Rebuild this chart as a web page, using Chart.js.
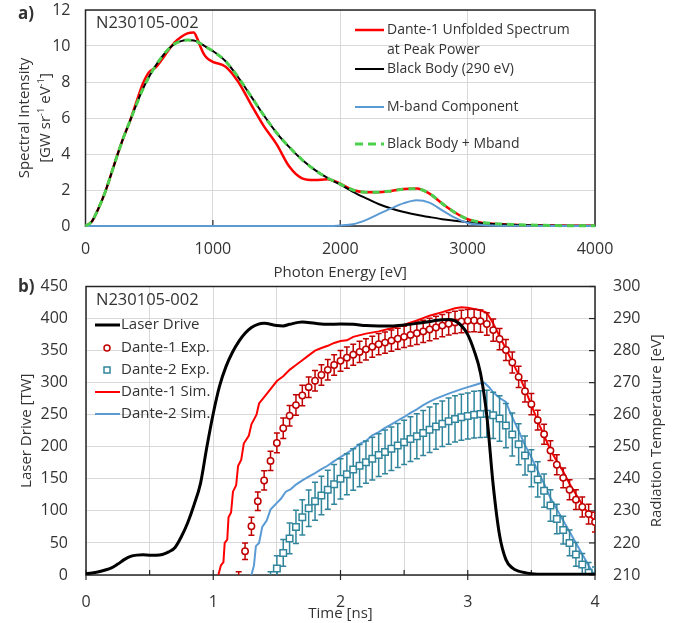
<!DOCTYPE html>
<html>
<head>
<meta charset="utf-8">
<script src="https://cdn.jsdelivr.net/npm/chart.js@4.4.1/dist/chart.umd.min.js"></script>
<style>
  html, body { margin: 0; padding: 0; background: #fff; }
  #wrap { position: relative; width: 691px; height: 623px; overflow: hidden; }
  #specChart { position: absolute; left: 0; top: 0; }
  #tempChart { position: absolute; left: 0; top: 272px; }
</style>
</head>
<body>
<div id="wrap">
  <canvas id="specChart" width="691" height="283"></canvas>
  <canvas id="tempChart" width="691" height="351"></canvas>
</div>
<script>
// ---------- a) spectrum ----------
const energy = [0, 50, 100, 150, 200, 250, 300, 350, 400, 450, 500, 550, 600, 650, 700, 750, 800, 850, 875, 900, 925, 950, 1000,
  1100, 1200, 1300, 1400, 1500, 1600, 1700, 1800, 1900, 2000, 2100, 2200, 2300, 2400, 2500, 2600, 2700, 2800, 2900, 3000,
  3100, 3200, 3400, 3600, 3800, 4000];
const dante1Spec = [0, 0.25, 0.95, 1.8, 2.85, 3.94, 4.95, 5.85, 6.9, 7.9, 8.55, 8.8, 9.25, 9.75, 10.2, 10.5, 10.7, 10.75, 10.45, 10.0, 9.6, 9.35, 9.12,
  8.85, 8.0, 6.75, 5.55, 4.55, 3.3, 2.65, 2.55, 2.6, 2.35, 2.0, 1.88, 1.88, 1.95, 2.05, 2.08, 1.8, 1.25, 0.75, 0.38,
  0.2, 0.12, 0.06, 0.03, 0.015, 0.01];
const blackBody = [0, 0.25, 0.95, 1.8, 2.85, 3.94, 4.95, 5.85, 6.75, 7.6, 8.3, 8.9, 9.4, 9.82, 10.12, 10.27, 10.33, 10.3, 10.25, 10.15, 10.05, 9.93, 9.72,
  9.15, 8.25, 7.2, 6.15, 5.18, 4.38, 3.68, 3.12, 2.67, 2.3, 1.9, 1.55, 1.22, 0.97, 0.78, 0.63, 0.5, 0.38, 0.29, 0.21,
  0.15, 0.11, 0.06, 0.03, 0.015, 0.01];
const mBand = [0, 0, 0, 0, 0, 0, 0, 0, 0, 0, 0, 0, 0, 0, 0, 0, 0, 0, 0, 0, 0, 0, 0,
  0, 0, 0, 0, 0, 0, 0, 0, 0, 0.03, 0.1, 0.33, 0.66, 0.98, 1.27, 1.43, 1.3, 0.87, 0.46, 0.17,
  0.07, 0.03, 0.01, 0, 0, 0];
const bbPlusM = [0, 0.25, 0.95, 1.8, 2.85, 3.94, 4.95, 5.85, 6.75, 7.6, 8.3, 8.9, 9.4, 9.82, 10.12, 10.27, 10.33, 10.3, 10.25, 10.15, 10.05, 9.93, 9.72,
  9.15, 8.25, 7.2, 6.15, 5.18, 4.38, 3.68, 3.12, 2.67, 2.33, 2.0, 1.88, 1.88, 1.95, 2.05, 2.07, 1.8, 1.25, 0.75, 0.38,
  0.22, 0.14, 0.07, 0.035, 0.015, 0.01];

// ---------- b) drive and radiation temperature ----------
const tLaser = [0, 0.1, 0.2, 0.25, 0.3, 0.35, 0.4, 0.45, 0.5, 0.55, 0.6, 0.65, 0.7, 0.75, 0.8, 0.85, 0.9, 0.95, 1.0, 1.05,
  1.1, 1.15, 1.2, 1.25, 1.3, 1.35, 1.4, 1.5, 1.55, 1.6, 1.7, 1.8, 1.9, 2.0, 2.1, 2.2, 2.3, 2.4, 2.5, 2.6, 2.7, 2.8, 2.85,
  2.9, 2.95, 3.0, 3.05, 3.1, 3.15, 3.2, 3.25, 3.3, 3.35, 3.4, 3.5, 3.6, 3.8, 4.0];
const laserTW = [2, 5, 11, 17, 24, 29, 31, 31.5, 31, 31, 32, 36, 43, 60, 82, 110, 143, 200, 252, 295,
  325, 347, 364, 377, 386, 391, 392.5, 389, 388.5, 391, 394.5, 392.5, 391, 391.5, 391, 389, 388.5, 388.5, 390, 392.5, 395.5, 398, 398.5,
  396.5, 389, 375, 350, 315, 248, 140, 62, 24, 11, 6, 2, 1, 1, 1];

const tSim1 = [1.04, 1.06, 1.08, 1.09, 1.11, 1.12, 1.14, 1.155, 1.18, 1.195, 1.22, 1.24, 1.28, 1.3, 1.34, 1.36, 1.4, 1.45, 1.5, 1.55,
  1.6, 1.65, 1.7, 1.75, 1.8, 1.85, 1.9, 1.95, 2.0, 2.05, 2.1, 2.2, 2.3, 2.4, 2.5, 2.6, 2.7, 2.8, 2.9, 2.95, 3.0, 3.05, 3.1, 3.15,
  3.2, 3.25, 3.3, 3.35, 3.4, 3.45, 3.5, 3.55, 3.6, 3.65, 3.7, 3.75, 3.8, 3.85, 3.9, 3.95, 4.0];
const sim1eV = [210, 213, 214, 220, 221, 228, 229.5, 236, 238, 244, 246, 251, 253.5, 257, 260, 263.5, 265.5, 268, 270.5, 272,
  274, 275.5, 277, 278.5, 280, 280.8, 281.5, 282.4, 283, 283.2, 284.3, 285.3, 286, 287, 288.1, 289.4, 290.9, 292, 293.2, 293.5, 293.4, 293, 292.6, 291.8,
  288.5, 284.5, 280.5, 276.5, 272.5, 268, 263, 258, 253.5, 249, 245.5, 242.3, 238.5, 235.2, 232, 229, 226.7];

const tSim2 = [1.3, 1.32, 1.335, 1.36, 1.385, 1.42, 1.45, 1.5, 1.53, 1.57, 1.61, 1.65, 1.7, 1.734, 1.8, 1.85, 1.895, 1.95, 2.0, 2.05,
  2.1, 2.155, 2.2, 2.25, 2.3, 2.35, 2.4, 2.45, 2.5, 2.55, 2.6, 2.65, 2.7, 2.75, 2.8, 2.85, 2.9, 2.95, 3.0, 3.05, 3.1, 3.13, 3.17,
  3.2, 3.25, 3.3, 3.33, 3.36, 3.4, 3.45, 3.5, 3.55, 3.6, 3.65, 3.7, 3.75, 3.8, 3.85, 3.9, 3.95, 4.0];
const sim2eV = [210, 213, 219, 220, 225, 227, 230.4, 232.5, 233.7, 236, 236.8, 238.2, 239.5, 240.3, 241.8, 243, 244, 245.5, 246.8, 248,
  249.3, 251, 251.8, 253.6, 254.6, 255.9, 257, 258.2, 259.3, 260.6, 261.7, 263, 264.1, 265, 265.8, 266.6, 267.3, 268, 268.6, 269.2, 269.8, 270, 268.5,
  267, 265.2, 264, 261, 258.4, 255, 250.5, 246.7, 242.5, 238.5, 234, 230.5, 227, 223.5, 220, 216.5, 213, 209.5];

const tExp1 = [1.2, 1.25, 1.3, 1.35, 1.4, 1.45, 1.5, 1.55, 1.6, 1.65, 1.7, 1.75, 1.8, 1.85, 1.9, 1.95, 2.0, 2.05, 2.1, 2.15,
  2.2, 2.25, 2.3, 2.35, 2.4, 2.45, 2.5, 2.55, 2.6, 2.65, 2.7, 2.75, 2.8, 2.85, 2.9, 2.95, 3.0, 3.05, 3.1, 3.15,
  3.2, 3.25, 3.3, 3.35, 3.4, 3.45, 3.5, 3.55, 3.6, 3.65, 3.7, 3.75, 3.8, 3.85, 3.9, 3.95, 4.0];
const exp1eV = [208, 217.4, 225.2, 233, 239.5, 245.6, 251.2, 255.8, 259.7, 263, 266, 268.6, 270.6, 272.4, 274, 275.5, 276.8, 277.8, 278.7, 279.6,
  280.4, 281.2, 282, 282.5, 283.1, 283.7, 284.3, 284.9, 285.4, 286, 286.6, 287.2, 287.8, 288.4, 288.8, 289.1, 289.3, 289.4, 289.2, 288.3,
  286.4, 283.6, 280.2, 276.3, 271.8, 267.3, 263.3, 258.3, 253.9, 248.8, 244.4, 240.3, 236.6, 233.5, 231.2, 229, 226.5];
const exp1Err = [3, 2.6, 2.8, 2.9, 3, 3, 3.1, 3.2, 3.2, 3.2, 3.2, 3.2, 3.2, 3.2, 3.2, 3.2, 3.2, 3.3, 3.3, 3.3,
  3.3, 3.3, 3.3, 3.3, 3.3, 3.3, 3.3, 3.5, 3.5, 3.5, 3.5, 3.5, 3.5, 3.5, 3.5, 3.5, 3.5, 3.5, 3.5, 3.5,
  3.5, 3.3, 3.3, 3.3, 3.3, 3.3, 3.3, 3.1, 3.1, 3.1, 3.1, 3.1, 3.1, 3.1, 3.1, 3.1, 3.1];

const tExp2 = [1.45, 1.5, 1.55, 1.6, 1.65, 1.7, 1.75, 1.8, 1.85, 1.9, 1.95, 2.0, 2.05, 2.1, 2.15,
  2.2, 2.25, 2.3, 2.35, 2.4, 2.45, 2.5, 2.55, 2.6, 2.65, 2.7, 2.75, 2.8, 2.85, 2.9, 2.95, 3.0, 3.05, 3.1, 3.15,
  3.2, 3.25, 3.3, 3.35, 3.4, 3.45, 3.5, 3.55, 3.6, 3.65, 3.7, 3.75, 3.8, 3.85, 3.9, 3.95, 4.0];
const exp2eV = [207.5, 212, 216.9, 221.4, 225, 228, 230.8, 233, 234.8, 236.6, 238.3, 240, 241.4, 242.9, 244.1,
  245.2, 246.3, 247.4, 248.4, 249.4, 250.4, 251.4, 252.4, 253.3, 254.3, 255.3, 256.3, 257.2, 258, 258.7, 259.2, 259.6, 260, 260.2, 260.3,
  259.8, 258.8, 256.6, 253.8, 250.8, 247.3, 243.3, 239.8, 236.3, 231.7, 227.5, 224, 220, 216.4, 213.3, 210.7, 209.5];
const exp2Err = [3.5, 4, 4.2, 4.8, 5.2, 5.5, 5.7, 5.9, 6, 6.1, 6.2, 6.3, 6.4, 6.5, 6.6,
  6.6, 6.7, 6.7, 6.8, 6.8, 6.9, 6.9, 7, 7, 7, 7.1, 7.1, 7.1, 7.2, 7.2, 7.2, 7.2, 7.3, 7.3, 7.3,
  7.2, 7.1, 6.9, 6.7, 6.4, 6.1, 5.8, 5.5, 5.2, 4.9, 4.6, 4.3, 4, 3.7, 3.4, 3.2, 3];

const shotName = "N230105-002";
const FONT = "'Open Sans', 'Noto Sans', sans-serif";
const TXT = "#333333";
const GRID = "#d9d9d9";

function pairs(xs, ys) { return xs.map((x, i) => ({ x: x, y: ys[i] })); }

function text(ctx, s, x, y, size, align, weight) {
  ctx.font = (weight || "normal") + " " + size + "px " + FONT;
  ctx.fillStyle = TXT;
  ctx.textAlign = align || "left";
  ctx.textBaseline = "middle";
  ctx.fillText(s, x, y);
}

function vtext(ctx, parts, x, y, size) {
  ctx.save();
  ctx.translate(x, y);
  ctx.rotate(-Math.PI / 2);
  ctx.fillStyle = TXT;
  ctx.textBaseline = "middle";
  ctx.textAlign = "left";
  let total = 0;
  parts.forEach(p => {
    ctx.font = (p.sup ? size * 0.62 : size) + "px " + FONT;
    p.w = ctx.measureText(p.t).width;
    total += p.w;
  });
  let cx = -total / 2;
  parts.forEach(p => {
    ctx.font = (p.sup ? size * 0.62 : size) + "px " + FONT;
    ctx.fillText(p.t, cx, p.sup ? -size * 0.3 : 0);
    cx += p.w;
  });
  ctx.restore();
}

function frame(ctx, a) {
  ctx.save();
  ctx.strokeStyle = "#262626";
  ctx.lineWidth = 1.5;
  ctx.strokeRect(a.left, a.top, a.right - a.left, a.bottom - a.top);
  ctx.restore();
}

function sample(ctx, x1, x2, y, color, width, dash) {
  ctx.save();
  ctx.strokeStyle = color;
  ctx.lineWidth = width;
  ctx.setLineDash(dash || []);
  ctx.beginPath();
  ctx.moveTo(x1, y);
  ctx.lineTo(x2, y);
  ctx.stroke();
  ctx.restore();
}

// keep tick labels from pushing the plot area around
function noPad(s) { s.paddingTop = 0; s.paddingBottom = 0; s.paddingLeft = 0; s.paddingRight = 0; }

const tickStyle = { font: { family: FONT, size: 16 }, color: TXT, maxRotation: 0, callback: v => String(v) };

// ---------- chart a ----------
const specDecor = {
  id: "specDecor",
  beforeDatasetsDraw(chart) {
    const ctx = chart.ctx, a = chart.chartArea, x = chart.scales.x;
    frame(ctx, a);
    ctx.save();
    ctx.strokeStyle = "#262626";
    ctx.lineWidth = 1.2;
    [1000, 2000, 3000].forEach(v => {
      const px = x.getPixelForValue(v);
      ctx.beginPath(); ctx.moveTo(px, a.bottom); ctx.lineTo(px, a.bottom - 6); ctx.stroke();
    });
    ctx.restore();
  },
  afterDraw(chart) {
    const ctx = chart.ctx, a = chart.chartArea;
    text(ctx, "a)", 18, 14, 17, "left", "bold");
    text(ctx, shotName, 96, 23, 16.5);
    text(ctx, "Photon Energy [eV]", (a.left + a.right) / 2, 273, 15, "center");
    vtext(ctx, [{ t: "Spectral Intensity" }], 25, (a.top + a.bottom) / 2, 15);
    vtext(ctx, [{ t: "[GW sr" }, { t: "-1", sup: true }, { t: " eV" }, { t: "-1", sup: true }, { t: "]" }], 46, (a.top + a.bottom) / 2, 15);
    // legend
    sample(ctx, 355, 384, 30, "#ff0000", 2.5);
    text(ctx, "Dante-1 Unfolded Spectrum", 387, 30, 14);
    text(ctx, "at Peak Power", 387, 50, 14);
    sample(ctx, 355, 384, 69, "#000000", 2);
    text(ctx, "Black Body (290 eV)", 387, 69, 14);
    sample(ctx, 355, 384, 107, "#5b9bd5", 2);
    text(ctx, "M-band Component", 387, 107, 14);
    sample(ctx, 355, 384, 144, "#4ccf4c", 3, [8, 5]);
    text(ctx, "Black Body + Mband", 387, 144, 14);
  }
};

new Chart(document.getElementById("specChart").getContext("2d"), {
  type: "line",
  data: {
    datasets: [
      { label: "Black Body + Mband", data: pairs(energy, bbPlusM), borderColor: "#4ccf4c", borderWidth: 3, borderDash: [7, 5], clip: 3 },
      { label: "M-band Component", data: pairs(energy, mBand), borderColor: "#5b9bd5", borderWidth: 2, clip: 3 },
      { label: "Black Body (290 eV)", data: pairs(energy, blackBody), borderColor: "#000000", borderWidth: 2, clip: 3 },
      { label: "Dante-1 Unfolded Spectrum at Peak Power", data: pairs(energy, dante1Spec), borderColor: "#ff0000", borderWidth: 2.5, clip: 3 }
    ]
  },
  options: {
    responsive: false,
    animation: false,
    layout: { padding: { left: 0, right: 96, top: 10, bottom: 0 } },
    elements: { point: { radius: 0 }, line: { cubicInterpolationMode: "monotone", fill: false } },
    plugins: { legend: { display: false }, tooltip: { enabled: false } },
    scales: {
      x: {
        type: "linear", min: 0, max: 4000,
        ticks: Object.assign({}, tickStyle, { stepSize: 1000, padding: 14 }),
        grid: { color: GRID, drawTicks: false },
        border: { display: false },
        afterFit(s) { s.height = 57; noPad(s); }
      },
      y: {
        min: 0, max: 12,
        ticks: Object.assign({}, tickStyle, { stepSize: 2, padding: 15 }),
        grid: { color: GRID, drawTicks: false },
        border: { display: false },
        afterFit(s) { s.width = 85.5; noPad(s); }
      }
    }
  },
  plugins: [specDecor]
});

// ---------- chart b ----------
const errorBars = {
  id: "errorBars",
  beforeDatasetDraw(chart, args) {
    const ds = chart.data.datasets[args.index];
    if (!ds.errors) return;
    const ctx = chart.ctx, a = chart.chartArea;
    const xs = chart.scales.x, ys = chart.scales[ds.yAxisID];
    ctx.save();
    ctx.beginPath();
    ctx.rect(a.left, a.top, a.right - a.left, a.bottom - a.top);
    ctx.clip();
    ctx.strokeStyle = ds.borderColor;
    ctx.lineWidth = 1.5;
    ds.data.forEach((p, i) => {
      const px = xs.getPixelForValue(p.x);
      const lo = ys.getPixelForValue(p.y - ds.errors[i]);
      const hi = ys.getPixelForValue(p.y + ds.errors[i]);
      ctx.beginPath();
      ctx.moveTo(px, lo); ctx.lineTo(px, hi);
      ctx.moveTo(px - 3, lo); ctx.lineTo(px + 3, lo);
      ctx.moveTo(px - 3, hi); ctx.lineTo(px + 3, hi);
      ctx.stroke();
    });
    ctx.restore();
  }
};

const tempDecor = {
  id: "tempDecor",
  beforeDatasetsDraw(chart) {
    const ctx = chart.ctx, a = chart.chartArea, x = chart.scales.x, y2 = chart.scales.y2;
    frame(ctx, a);
    ctx.save();
    ctx.strokeStyle = "#262626";
    ctx.lineWidth = 1.2;
    x.ticks.forEach(t => {
      const px = x.getPixelForValue(t.value);
      const major = Number.isInteger(t.value);
      ctx.beginPath();
      ctx.moveTo(px, a.bottom + (major ? 5 : 0));
      ctx.lineTo(px, a.bottom - 5);
      ctx.stroke();
    });
    y2.ticks.forEach(t => {
      const py = y2.getPixelForValue(t.value);
      ctx.beginPath(); ctx.moveTo(a.right, py); ctx.lineTo(a.right - 6, py); ctx.stroke();
    });
    ctx.restore();
  },
  afterDraw(chart) {
    const ctx = chart.ctx, a = chart.chartArea;
    const mid = (a.top + a.bottom) / 2;
    text(ctx, "b)", 18, 15, 17, "left", "bold");
    text(ctx, shotName, 96, 28, 16.5);
    text(ctx, "Time [ns]", (a.left + a.right) / 2, 342, 15, "center");
    vtext(ctx, [{ t: "Laser Drive [TW]" }], 27, mid, 15);
    vtext(ctx, [{ t: "Radiation Temperature [eV]" }], 657, mid, 15);
    // legend
    sample(ctx, 95, 120, 53, "#000000", 3);
    text(ctx, "Laser Drive", 121, 53, 15);
    ctx.save();
    ctx.strokeStyle = "#c00000"; ctx.fillStyle = "#fff"; ctx.lineWidth = 1.5;
    ctx.beginPath(); ctx.arc(107, 76, 3, 0, Math.PI * 2); ctx.fill(); ctx.stroke();
    ctx.strokeStyle = "#31859c";
    ctx.fillRect(104, 95, 6, 6); ctx.strokeRect(104, 95, 6, 6);
    ctx.restore();
    text(ctx, "Dante-1 Exp.", 121, 76, 15);
    text(ctx, "Dante-2 Exp.", 121, 98, 15);
    sample(ctx, 95, 120, 120, "#ff0000", 2);
    text(ctx, "Dante-1 Sim.", 121, 120, 15);
    sample(ctx, 95, 120, 142, "#5b9bd5", 2);
    text(ctx, "Dante-2 Sim.", 121, 142, 15);
  }
};

new Chart(document.getElementById("tempChart").getContext("2d"), {
  type: "line",
  data: {
    datasets: [
      { label: "Laser Drive", data: pairs(tLaser, laserTW), yAxisID: "y", borderColor: "#000000", borderWidth: 3,
        cubicInterpolationMode: "monotone", pointRadius: 0 },
      { label: "Dante-1 Exp.", data: pairs(tExp1, exp1eV), errors: exp1Err, yAxisID: "y2", showLine: false,
        borderColor: "#c00000", backgroundColor: "#ffffff", pointStyle: "circle", pointRadius: 3.2, pointBorderWidth: 1.5 },
      { label: "Dante-2 Exp.", data: pairs(tExp2, exp2eV), errors: exp2Err, yAxisID: "y2", showLine: false,
        borderColor: "#31859c", backgroundColor: "#ffffff", pointStyle: "rect", pointRadius: 4.6, pointBorderWidth: 1.5 },
      { label: "Dante-1 Sim.", data: pairs(tSim1, sim1eV), yAxisID: "y2", borderColor: "#ff0000", borderWidth: 2, pointRadius: 0 },
      { label: "Dante-2 Sim.", data: pairs(tSim2, sim2eV), yAxisID: "y2", borderColor: "#5b9bd5", borderWidth: 2, pointRadius: 0 }
    ]
  },
  options: {
    responsive: false,
    animation: false,
    layout: { padding: { left: 0, right: 0, top: 14.5, bottom: 0 } },
    elements: { line: { fill: false, tension: 0 } },
    plugins: { legend: { display: false }, tooltip: { enabled: false } },
    scales: {
      x: {
        type: "linear", min: 0, max: 4,
        ticks: Object.assign({}, tickStyle, { stepSize: 0.5, padding: 18, callback: v => Number.isInteger(v) ? String(v) : "" }),
        grid: { color: GRID, drawTicks: false },
        border: { display: false },
        afterFit(s) { s.height = 48; noPad(s); }
      },
      y: {
        position: "left", min: 0, max: 450,
        ticks: Object.assign({}, tickStyle, { stepSize: 50, padding: 18 }),
        grid: { color: GRID, drawTicks: false },
        border: { display: false },
        afterFit(s) { s.width = 86; noPad(s); }
      },
      y2: {
        position: "right", min: 210, max: 300,
        ticks: Object.assign({}, tickStyle, { stepSize: 10, padding: 18 }),
        grid: { drawOnChartArea: false, drawTicks: false },
        border: { display: false },
        afterFit(s) { s.width = 96; noPad(s); }
      }
    }
  },
  plugins: [errorBars, tempDecor]
});
</script>
</body>
</html>
